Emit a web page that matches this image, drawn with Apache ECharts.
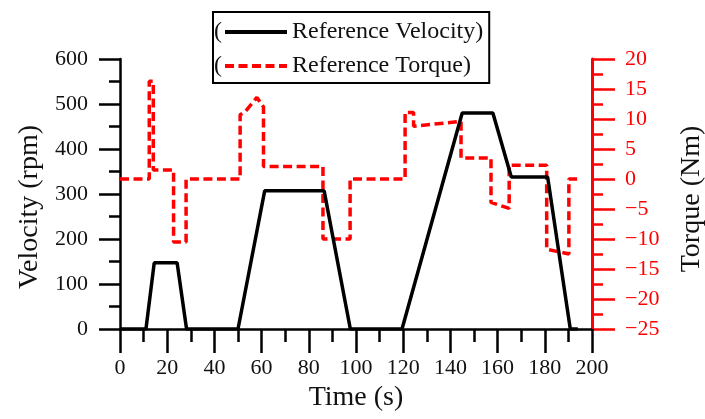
<!DOCTYPE html>
<html><head><meta charset="utf-8">
<script src="https://cdn.jsdelivr.net/npm/echarts@6/dist/echarts.min.js"></script>
<style>html,body{margin:0;padding:0;background:#fff}#c{width:705px;height:419px}</style>
</head><body><div id="c"></div>
<script>
// Tick values
const timeTicks = [0, 20, 40, 60, 80, 100, 120, 140, 160, 180, 200];
const velocityTicks = [0, 100, 200, 300, 400, 500, 600];
const torqueTicks = [-25, -20, -15, -10, -5, 0, 5, 10, 15, 20];

// Reference velocity (rpm) breakpoints
const velocityTime = [0, 11, 14.5, 24.2, 28.2, 50, 61.3, 86.5, 97.6, 119.5, 145, 158, 165.8, 181.2, 190.8, 194];
const velocityRpm  = [0, 0, 147, 147, 0, 0, 307, 307, 0, 0, 480, 480, 338, 338, 0, 0];

// Reference torque (Nm) breakpoints
const torqueTime = [0, 12.4, 12.4, 14.1, 14.1, 22.7, 22.7, 28, 28, 50.9, 50.9, 53, 58, 60.8, 60.8, 86, 86, 97.5, 97.5, 120.8, 120.8, 124.4, 124.4, 144.5, 144.5, 157.2, 157.2, 164.9, 164.9, 180.8, 180.8, 190.2, 190.2, 193.7];
const torqueNm   = [0, 0, 16.3, 16.3, 1.5, 1.5, -10.5, -10.5, 0, 0, 10.7, 11.2, 13.6, 12, 2.1, 2.1, -10, -10, 0, 0, 11.1, 11.1, 8.8, 9.6, 3.5, 3.5, -3.9, -4.9, 2.3, 2.3, -11.7, -12.5, 0, 0];

const FONT = '"Liberation Serif", "Times New Roman", serif';
const pair = (xs, ys) => xs.map((x, i) => [x, ys[i]]);

const chart = echarts.init(document.getElementById('c'), null, {renderer: 'canvas'});
chart.setOption({
  animation: false,
  backgroundColor: '#fff',
  grid: {left: 120, right: 113, top: 59, bottom: 90},
  legend: {
    orient: 'vertical', left: 213, top: 12,
    data: ['Reference Velocity', 'Reference Torque'],
    itemWidth: 62, itemHeight: 24, itemGap: 10,
    padding: [8, 6, 5, 10],
    borderColor: '#000', borderWidth: 2, backgroundColor: '#fff',
    textStyle: {fontSize: 24, fontFamily: FONT, color: '#111'},
    itemStyle: {color: 'rgba(0,0,0,0)', borderWidth: 0, opacity: 0},
    lineStyle: {width: 4},
    formatter: n => n + ')'
  },
  xAxis: {
    type: 'value',
    min: timeTicks[0], max: timeTicks[timeTicks.length - 1], interval: timeTicks[1] - timeTicks[0],
    splitLine: {show: false},
    axisLine: {show: true, lineStyle: {color: '#000', width: 2.5}},
    axisTick: {show: true, length: 24, lineStyle: {color: '#000', width: 2.5}},
    minorTick: {show: true, splitNumber: 2, length: 13, lineStyle: {color: '#000', width: 2.5}},
    axisLabel: {margin: 28, fontSize: 22, fontFamily: FONT, color: '#111'},
    name: 'Time (s)', nameLocation: 'middle', nameGap: 54,
    nameTextStyle: {fontSize: 28, fontFamily: FONT, color: '#111'}
  },
  yAxis: [{
    type: 'value', position: 'left',
    min: velocityTicks[0], max: velocityTicks[velocityTicks.length - 1], interval: velocityTicks[1] - velocityTicks[0],
    splitLine: {show: false},
    axisLine: {show: true, onZero: false, lineStyle: {color: '#000', width: 2.5}},
    axisTick: {show: true, length: 21, lineStyle: {color: '#000', width: 2.5}},
    minorTick: {show: true, splitNumber: 2, length: 11, lineStyle: {color: '#000', width: 2.5}},
    axisLabel: {margin: 32, fontSize: 22, fontFamily: FONT, color: '#111'}
  }, {
    type: 'value', position: 'right',
    min: torqueTicks[0], max: torqueTicks[torqueTicks.length - 1], interval: torqueTicks[1] - torqueTicks[0],
    splitLine: {show: false},
    axisLine: {show: true, onZero: false, lineStyle: {color: '#ff0000', width: 3}},
    axisTick: {show: true, length: 23, lineStyle: {color: '#ff0000', width: 2.5}},
    minorTick: {show: true, splitNumber: 2, length: 11, lineStyle: {color: '#ff0000', width: 2.5}},
    axisLabel: {margin: 33, fontSize: 22, fontFamily: FONT, color: '#ff0000',
      formatter: v => String(v).replace('-', '\u2212')}
  }],
  series: [{
    name: 'Reference Torque', type: 'line', yAxisIndex: 1,
    data: pair(torqueTime, torqueNm),
    symbol: 'none',
    lineStyle: {color: '#ff0000', width: 3.5, type: [9, 4.5]},
    itemStyle: {color: '#ff0000'}
  }, {
    name: 'Reference Velocity', type: 'line', yAxisIndex: 0,
    data: pair(velocityTime, velocityRpm),
    symbol: 'none',
    lineStyle: {color: '#000', width: 3.5},
    itemStyle: {color: '#000'}
  }],
  graphic: [
    {type: 'text', x: 30, y: 207, rotation: Math.PI / 2, z: 100,
      style: {text: 'Velocity (rpm)', fontSize: 28, fontFamily: FONT, fill: '#111', align: 'center', verticalAlign: 'middle'}},
    {type: 'text', x: 692, y: 199, rotation: Math.PI / 2, z: 100,
      style: {text: 'Torque (Nm)', fontSize: 28, fontFamily: FONT, fill: '#111', align: 'center', verticalAlign: 'middle'}},
    {type: 'text', x: 214, y: 32, z: 100,
      style: {text: '(', fontSize: 24, fontFamily: FONT, fill: '#111', align: 'left', verticalAlign: 'middle'}},
    {type: 'text', x: 214, y: 66, z: 100,
      style: {text: '(', fontSize: 24, fontFamily: FONT, fill: '#111', align: 'left', verticalAlign: 'middle'}}
  ]
});
</script>
</body></html>
